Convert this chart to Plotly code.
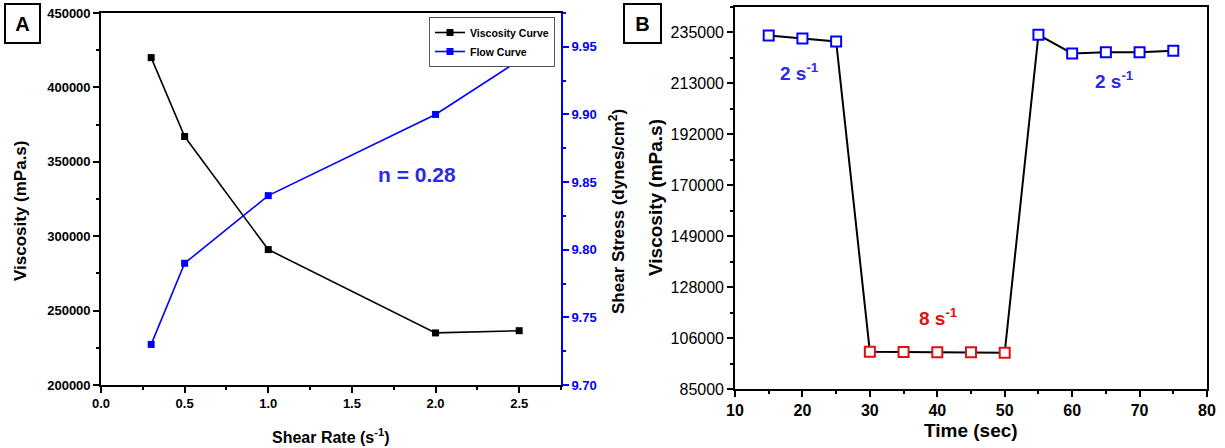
import plotly.graph_objects as go

# ---------------- Data ----------------
# Panel A
shear_rate = [0.3, 0.5, 1.0, 2.0, 2.5]
viscosity_A = [420000, 367000, 291000, 235000, 236500]
shear_stress = [9.730, 9.790, 9.840, 9.900, 9.940]
a_x_ticks = [0, 0.5, 1.0, 1.5, 2.0, 2.5]
a_y_ticks = [200000, 250000, 300000, 350000, 400000, 450000]
a_y2_ticks = [9.70, 9.75, 9.80, 9.85, 9.90, 9.95]

# Panel B
time_s = [15, 20, 25, 30, 35, 40, 45, 50, 55, 60, 65, 70, 75]
viscosity_B = [233700, 232500, 231200, 100700, 100600, 100500, 100500, 100300,
               234000, 226200, 226700, 226700, 227300]
rate_group = ["2", "2", "2", "8", "8", "8", "8", "8", "2", "2", "2", "2", "2"]
b_tick_labels = ["85000", "106000", "128000", "149000", "170000", "192000", "213000", "235000"]

W, H = 1225, 448
BLUE = "#0000ff"
TXT_BLUE = "#2a2ae8"
RED = "#e01010"
FONT = "Liberation Sans, Arial, sans-serif"


def px(x):
    return x / W


def py(y):
    return 1 - y / H


fig = go.Figure()

# Panel A traces
fig.add_trace(go.Scatter(x=shear_rate, y=viscosity_A, mode="lines+markers",
                         name="Viscosity Curve", line=dict(color="black", width=1.6),
                         marker=dict(symbol="square", size=7, color="black"),
                         xaxis="x", yaxis="y"))
fig.add_trace(go.Scatter(x=shear_rate, y=shear_stress, mode="lines+markers",
                         name="Flow Curve", line=dict(color=BLUE, width=1.6),
                         marker=dict(symbol="square", size=7, color=BLUE),
                         xaxis="x", yaxis="y2"))

# Panel B trace
mcolors = [BLUE if g == "2" else RED for g in rate_group]
fig.add_trace(go.Scatter(x=time_s, y=viscosity_B, mode="lines+markers",
                         showlegend=False, line=dict(color="black", width=2),
                         marker=dict(symbol="square", size=10, color="white",
                                     line=dict(color=mcolors, width=2)),
                         xaxis="x3", yaxis="y3"))

b_step = (235000 - 85000) / 7
b_tickvals = [85000 + i * b_step for i in range(len(b_tick_labels))]

tickA = dict(family=FONT, size=13, color="black", weight="bold")
tickAblue = dict(family=FONT, size=13, color=BLUE, weight="bold")

common = dict(showgrid=False, zeroline=False, automargin=False, ticks="outside",
              ticklen=6, tickwidth=1.5, linewidth=1.6, showline=True)

fig.update_layout(
    width=W, height=H,
    margin=dict(l=0, r=0, t=0, b=0, autoexpand=False),
    paper_bgcolor="white", plot_bgcolor="white",
    font=dict(family=FONT, color="black"),
    xaxis=dict(domain=[px(101), px(561)], anchor="y", range=[0, 2.75],
               tickvals=a_x_ticks, ticktext=[f"{v:.1f}" for v in a_x_ticks],
               tickcolor="black", linecolor="black", mirror=True,
               minor=dict(ticks="outside", ticklen=3, dtick=0.25, tick0=0, tickcolor="black", tickwidth=1.5),
               tickfont=tickA, **common),
    yaxis=dict(domain=[py(385), py(13)], anchor="x", range=[200000, 450000],
               tickvals=a_y_ticks, ticktext=[str(v) for v in a_y_ticks],
               tickcolor="black", linecolor="black",
               minor=dict(ticks="outside", ticklen=3, dtick=25000, tickcolor="black", tickwidth=1.5),
               tickfont=tickA, **common),
    yaxis2=dict(overlaying="y", side="right", anchor="x", range=[9.70, 9.975],
                tickvals=a_y2_ticks, ticktext=[f"{v:.2f}" for v in a_y2_ticks],
                tickcolor=BLUE, linecolor=BLUE,
                minor=dict(ticks="outside", ticklen=3, dtick=0.025, tick0=9.70, tickcolor=BLUE, tickwidth=1.5),
                tickfont=tickAblue, **common),
    xaxis3=dict(domain=[px(735), px(1207)], anchor="y3", range=[10, 80],
                dtick=10, tickcolor="black", linecolor="black", mirror=True,
                minor=dict(ticks="outside", ticklen=3, dtick=5, tickcolor="black", tickwidth=1.5),
                tickfont=dict(family=FONT, size=16, color="black", weight="bold"), **common),
    yaxis3=dict(domain=[py(389), py(7)], anchor="x3", range=[85000, 85000 + 7.5 * b_step],
                tickmode="array", tickvals=b_tickvals, ticktext=b_tick_labels,
                tickcolor="black", linecolor="black", mirror=True,
                minor=dict(ticks="outside", ticklen=3, tick0=85000, dtick=b_step / 2,
                           tickcolor="black", tickwidth=1.5),
                tickfont=dict(family=FONT, size=16, color="black"), **common),
    legend=dict(x=px(555), xanchor="right", y=py(17), yanchor="top",
                bordercolor="#555555", borderwidth=1, bgcolor="white",
                font=dict(family=FONT, size=10.5, color="black", weight="bold"),
                tracegroupgap=0, itemwidth=30),
)


def label(text, x, y, size, color="black", angle=0):
    return dict(text=text, x=px(x), y=py(y), xref="paper", yref="paper",
                xanchor="center", yanchor="middle", textangle=angle, showarrow=False,
                font=dict(family=FONT, size=size, color=color))


ann = []
# Panel labels
ann.append(dict(text="<b>A</b>", x=px(4), y=py(3), xref="paper", yref="paper",
                xanchor="left", yanchor="top", showarrow=False, width=31, height=35,
                bordercolor="black", borderwidth=2, bgcolor="white",
                font=dict(family=FONT, size=20, color="black")))
ann.append(dict(text="<b>B</b>", x=px(623), y=py(3), xref="paper", yref="paper",
                xanchor="left", yanchor="top", showarrow=False, width=33, height=35,
                bordercolor="black", borderwidth=2, bgcolor="white",
                font=dict(family=FONT, size=20, color="black")))
# Axis titles (panel A)
ann.append(label("<b>Viscosity (mPa.s)</b>", 21, 211, 17, angle=-90))
ann.append(label("<b>Shear Rate (s<sup>-1</sup>)</b>", 331, 436, 16))
ann.append(label("<b>Shear Stress (dynes/cm<sup>2</sup>)</b>", 617, 212, 17, angle=-90))
ann.append(label("<b>n = 0.28</b>", 417, 174, 21, TXT_BLUE))
# Axis titles (panel B)
ann.append(label("<b>Viscosity (mPa.s)</b>", 655, 198, 19, angle=-90))
ann.append(label("<b>Time (sec)</b>", 971, 430, 19))
# Rate labels (panel B)
ann.append(label("<b>2 s<sup>-1</sup></b>", 799, 72, 19, TXT_BLUE))
ann.append(label("<b>8 s<sup>-1</sup></b>", 938, 317, 19, RED))
ann.append(label("<b>2 s<sup>-1</sup></b>", 1114, 80, 19, TXT_BLUE))
fig.update_layout(annotations=ann)

fig.write_html("out.html", config={"displayModeBar": False},
               post_script="document.body.style.margin='0';document.body.style.overflow='hidden';")
